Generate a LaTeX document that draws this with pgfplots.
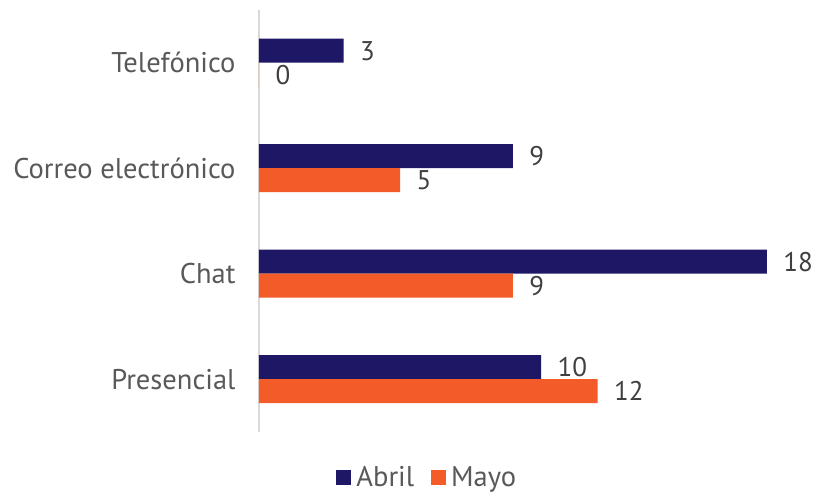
\documentclass[border=0pt]{standalone}
\usepackage{pgfplots}
\pgfplotsset{compat=1.18}
\usepackage{fontspec}
\setmainfont{PT Sans}
\definecolor{abril}{HTML}{1E1766}
\definecolor{mayo}{HTML}{F35B29}
\definecolor{catgray}{HTML}{595959}
\definecolor{numgray}{HTML}{404040}
\begin{document}
\begin{tikzpicture}
\begin{axis}[
  name=ax,
  at={(0pt,0pt)}, anchor=south west,
  scale only axis,
  width=536pt, height=422pt,
  xmin=0, xmax=19,
  ymin=-0.5, ymax=3.5,
  xbar, bar width=24pt,
  axis x line=none,
  axis y line*=left,
  y axis line style={draw=black!15, line width=1.2pt, -},
  ytick={0,1,2,3},
  yticklabels={Presencial,Chat,Correo electrónico,Telefónico},
  major tick length=0pt,
  yticklabel style={font=\fontsize{28.5}{32}\selectfont, text=catgray, xshift=-20pt},
  nodes near coords,
  every node near coord/.append style={font=\fontsize{27}{30}\selectfont, text=numgray, anchor=west, xshift=13pt},
  /pgf/number format/assume math mode=true,
  legend columns=2,
  legend style={draw=none, at={(0.314,-0.108)}, anchor=center, font=\fontsize{28.5}{32}\selectfont, text=catgray,
    inner sep=0pt, outer sep=0pt,
    /tikz/every odd column/.append style={column sep=3pt},
    /tikz/every even column/.append style={column sep=15pt}},
  legend image code/.code={\fill[#1] (0pt,-7pt) rectangle (15pt,8pt);},
]
\addplot[fill=abril, draw=none, bar shift=12pt] coordinates {(10,0) (18,1) (9,2) (3,3)};
\addplot[fill=mayo, draw=none, bar shift=-12pt] coordinates {(12,0) (9,1) (5,2) (0,3)};
\legend{Abril,Mayo}
\end{axis}
\pgfresetboundingbox
\path[use as bounding box] (-259pt,-65pt) rectangle (555pt,432pt);
\end{tikzpicture}
\end{document}
